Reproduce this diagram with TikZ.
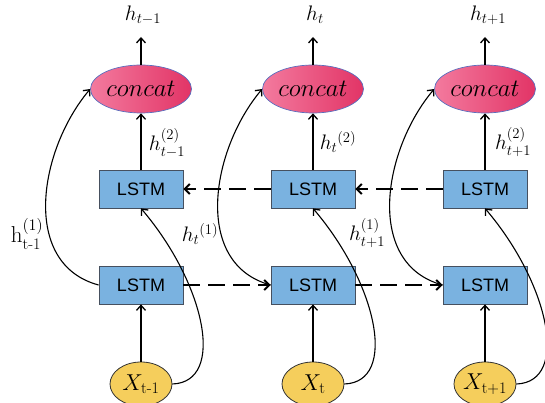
\RequirePackage{fix-cm}
\documentclass[tikz,border=0pt]{standalone}
\usepackage{amsmath}
\usepackage{fontspec}
\newfontfamily\lsfont{Liberation Sans}
\usetikzlibrary{arrows.meta,shapes.geometric}
\definecolor{boxblue}{RGB}{122,178,224}
\definecolor{boxedge}{RGB}{70,80,95}
\definecolor{pinkL}{RGB}{243,122,158}
\definecolor{pinkR}{RGB}{226,52,102}
\definecolor{elledge}{RGB}{90,110,190}
\definecolor{xyellow}{RGB}{245,206,92}
\begin{document}
\begin{tikzpicture}[x=1pt,y=-1pt,
  lstm/.style={draw=boxedge,line width=0.8pt,fill=boxblue,minimum width=84pt,minimum height=38pt,inner sep=0pt,font=\lsfont\fontsize{18}{20}\selectfont},
  cc/.style={ellipse,draw=elledge,line width=0.7pt,left color=pinkL,right color=pinkR,minimum width=101pt,minimum height=48pt,inner sep=0pt,font=\fontsize{25}{27}\selectfont},
  xin/.style={ellipse,draw=black!80,line width=0.8pt,fill=xyellow,minimum width=62pt,minimum height=44pt,inner sep=0pt,font=\fontsize{23}{25}\selectfont},
  lab/.style={inner sep=0pt,font=\fontsize{21}{24}\selectfont},
  arr/.style={line width=1.1pt,-{Straight Barb[length=5pt,width=9pt,line width=1.3pt]}},
  darr/.style={line width=2pt,dash pattern=on 17pt off 8pt,-{Straight Barb[length=5pt,width=10pt,line width=2pt]}}
]
\useasboundingbox (0,0) rectangle (545,403);
% nodes
\foreach \i/\x in {1/141,2/313,3/485}{
  \node[cc] (cc\i) at (\x,89) {$concat$};
  \node[lstm] (up\i) at (\x,189) {LSTM};
  \node[lstm] (lo\i) at (\x,285) {LSTM};
  \coordinate (top\i) at (\x,37);
}
\node[xin] (x1) at (141,384) {$X_{\text{t-1}}$};
\node[xin] (x2) at (313,384) {$X_{\text{t}}$};
\node[xin] (x3) at (485,384) {$X_{\text{t+1}}$};
% output labels
\node[lab] (o1) at (143,15) {$h_{t-1}$};
\node[lab] (o2) at (315,15) {$h_t$};
\node[lab] (o3) at (488,15) {$h_{t+1}$};
% h^(2) labels
\node[lab] (a1) at (167,143) {$h_{t-1}^{(2)}$};
\node[lab] (a2) at (338,142) {$h_t{}^{(2)}$};
\node[lab] (a3) at (513,142) {$h_{t+1}^{(2)}$};
% h^(1) labels
\node[lab,font=\fontsize{23}{26}\selectfont] (b1) at (27,234) {$\text{h}_{\text{t-1}}^{(1)}$};
\node[lab] (b2) at (200,234) {$h_t{}^{(1)}$};
\node[lab] (b3) at (367,233) {$h_{t+1}^{(1)}$};
% vertical arrows
\foreach \i in {1,2,3}{
  \draw[arr] (cc\i.north) -- (top\i);
  \draw[arr] (up\i.north) -- (cc\i.south);
  \draw[arr] (x\i.north) -- (lo\i.south);
  \draw[arr] (lo\i.west) to[out=165,in=-130,looseness=1.05] (cc\i.west);
  \draw[arr] (x\i.east) .. controls +(54,-2) and +(64,75) .. (up\i.south);
}
% dashed recurrent arrows
\draw[darr] (lo1.east) -- (lo2.west);
\draw[darr] (lo2.east) -- (lo3.west);
\draw[darr] (up2.west) -- (up1.east);
\draw[darr] (up3.west) -- (up2.east);
\end{tikzpicture}
\end{document}
